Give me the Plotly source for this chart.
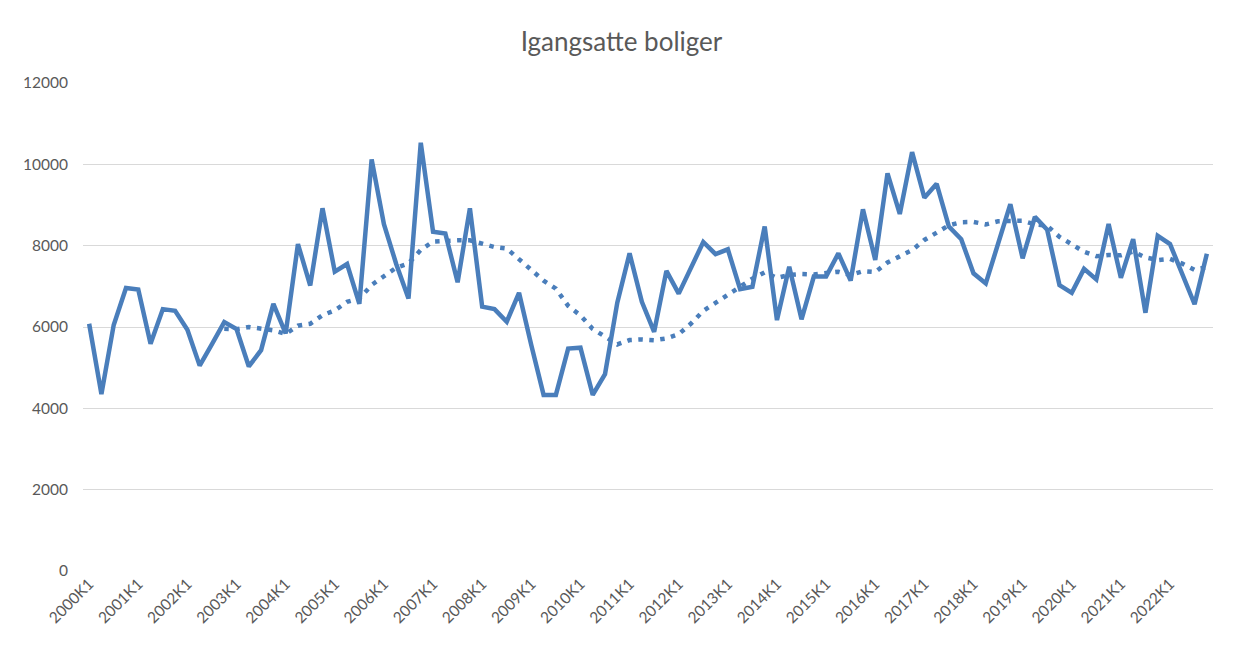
import plotly.graph_objects as go
import pandas as pd

years = list(range(2000, 2023))
quarters = [f"{y}K{q}" for y in years for q in range(1, 5)]

# Igangsatte boliger (started dwellings), quarterly
values = [
    6080, 4350, 6050, 6960, 6920, 5590, 6440, 6400, 5930, 5050, 5580, 6120,
    5950, 5030, 5430, 6570, 5840, 8040, 7020, 8920, 7360, 7550, 6570, 10120,
    8530, 7550, 6700, 10530, 8340, 8300, 7100, 8920, 6500, 6440, 6130, 6840,
    5550, 4330, 4330, 5470, 5490, 4330, 4840, 6600, 7810, 6620, 5880, 7380,
    6820, 7440, 8090, 7790, 7910, 6930, 6990, 8470, 6170, 7480, 6190, 7240,
    7240, 7810, 7140, 8895, 7650, 9780, 8780, 10300, 9180, 9520, 8470, 8160,
    7320, 7070, 8050, 9020, 7690, 8710, 8390, 7030, 6840, 7430, 7170, 8530,
    7210, 8160, 6350, 8240, 8040, 7300, 6560, 7800,
]

tick_labels = [f"{y}K1" for y in years]
y_ticks = [0, 2000, 4000, 6000, 8000, 10000, 12000]
title_text = "Igangsatte boliger"
ma_period = 12

# Excel-style moving average trendline (period 12) derived from the series
trend = pd.Series(values).rolling(ma_period).mean().tolist()

color = "#4A7EBB"
font_family = "Lato, 'Open Sans', sans-serif"

fig = go.Figure()
fig.add_trace(go.Scatter(
    x=quarters, y=values, mode="lines",
    line=dict(color=color, width=4.5, shape="linear"),
    name="Igangsatte boliger", showlegend=False, hoverinfo="x+y",
))
fig.add_trace(go.Scatter(
    x=quarters, y=trend, mode="lines",
    line=dict(color=color, width=4.5, dash="4.5px,6.5px"),
    name="12 per. glidende gjennomsnitt", showlegend=False,
    connectgaps=False,
))

fig.update_layout(
    width=1227, height=643,
    margin=dict(l=75, r=22, t=75, b=80),
    paper_bgcolor="white", plot_bgcolor="white",
    font=dict(family=font_family, color="#595959", size=15),
    title=dict(text=title_text, x=0.5, xanchor="center", y=1 - 34 / 643, yanchor="middle",
               font=dict(family=font_family, size=26, color="#595959")),
    showlegend=False,
)
fig.update_xaxes(
    type="category", range=[-0.5, len(quarters) - 0.5],
    tickmode="array", tickvals=tick_labels, ticktext=tick_labels,
    tickangle=-45, showgrid=False, showline=False, zeroline=False,
    ticks="", tickfont=dict(size=15.5, color="#595959"),
)
fig.update_yaxes(
    range=[0, 12000], tickmode="array", tickvals=y_ticks,
    ticktext=[str(v) for v in y_ticks],
    showgrid=True, gridcolor="#D9D9D9", gridwidth=1,
    zeroline=False, showline=False, ticks="",
    ticklabelstandoff=14, tickfont=dict(size=15.5, color="#595959"),
)

fig.write_html("out.html")
